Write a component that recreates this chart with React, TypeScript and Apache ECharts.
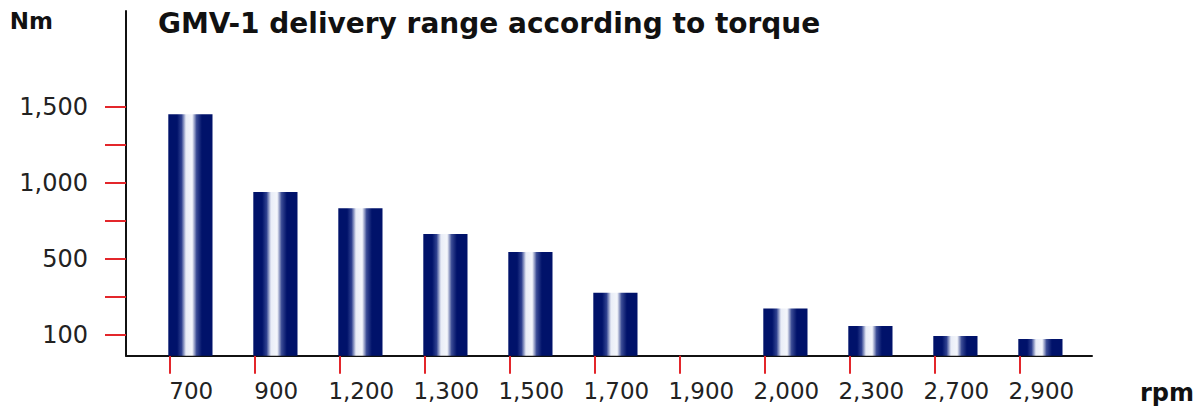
import React, { useEffect, useRef } from "react";
import * as echarts from "echarts";

// ---- data ----
const categories = ["700", "900", "1,200", "1,300", "1,500", "1,700", "1,900", "2,000", "2,300", "2,700", "2,900"];
const torque: (number | null)[] = [1452, 940, 834, 664, 545, 278, null, 175, 59, -7, -26];
const yTickValues = [0, 250, 500, 750, 1000, 1250, 1500];
const yLabelValues = [0, 500, 1000, 1500];
const yLabelTexts = ["100", "500", "1,000", "1,500"];
const Y_MIN = -136;
const Y_MAX = 2130;

const TITLE = "GMV-1 delivery range according to torque";
const FONT = "DejaVu Sans";
const RED = "#e3262b";
const NAVY = "#00126a";

export default function App() {
  const ref = useRef<HTMLDivElement>(null);

  useEffect(() => {
    if (!ref.current) return;
    const chart = echarts.init(ref.current, undefined, { renderer: "svg" });

    const barData = torque
      .map((v, i) => (v === null ? null : [i, v]))
      .filter((d) => d !== null);

    const gradient = new echarts.graphic.LinearGradient(0, 0, 1, 0, [
      { offset: 0, color: NAVY },
      { offset: 0.2, color: NAVY },
      { offset: 0.3, color: "#2f4190" },
      { offset: 0.4, color: "#e9edf7" },
      { offset: 0.54, color: "#f4f6fb" },
      { offset: 0.64, color: "#3a4b94" },
      { offset: 0.76, color: NAVY },
      { offset: 1, color: NAVY },
    ]);

    const option: any = {
      animation: false,
      backgroundColor: "#ffffff",
      title: {
        text: TITLE,
        left: 158,
        top: 9,
        padding: 0,
        textStyle: { fontFamily: FONT, fontWeight: "bold", fontSize: 28, color: "#111" },
      },
      grid: [
        { left: 126, right: 107, top: 11, bottom: 51.3 },
        { left: 126.8, width: 935, top: 11, bottom: 51.3 },
      ],
      xAxis: [
        {
          gridIndex: 0,
          type: "value",
          min: 0,
          max: 1,
          axisLine: { show: true, onZero: false, lineStyle: { color: "#111", width: 2 } },
          axisTick: { show: false },
          axisLabel: { show: false },
          splitLine: { show: false },
          name: "rpm",
          nameLocation: "end",
          nameGap: 48,
          nameTextStyle: {
            fontFamily: FONT,
            fontWeight: "bold",
            fontSize: 24,
            color: "#111",
            align: "left",
            verticalAlign: "top",
            padding: [25, 0, 0, 0],
          },
        },
        {
          gridIndex: 1,
          type: "category",
          data: categories,
          axisLine: { show: false, onZero: false },
          axisTick: {
            show: true,
            alignWithLabel: true,
            interval: 0,
            length: 18,
            lineStyle: { color: RED, width: 2 },
          },
          axisLabel: {
            interval: 0,
            margin: 24,
            padding: [0, 0, 0, 44],
            fontFamily: FONT,
            fontSize: 23,
            color: "#222",
          },
          splitLine: { show: false },
        },
      ],
      yAxis: [
        {
          gridIndex: 0,
          type: "value",
          min: Y_MIN,
          max: Y_MAX,
          axisLine: { show: true, onZero: false, lineStyle: { color: "#111", width: 2 } },
          axisTick: {
            show: true,
            customValues: yTickValues,
            length: 21,
            lineStyle: { color: RED, width: 2 },
          },
          axisLabel: {
            customValues: yLabelValues,
            formatter: (v: number) => {
              const k = yLabelValues.indexOf(v);
              return k >= 0 ? yLabelTexts[k] : "";
            },
            margin: 38,
            fontFamily: FONT,
            fontSize: 24,
            color: "#222",
          },
          splitLine: { show: false },
          name: "Nm",
          nameLocation: "end",
          nameGap: -10,
          nameTextStyle: {
            fontFamily: FONT,
            fontWeight: "bold",
            fontSize: 23,
            color: "#111",
            align: "right",
            verticalAlign: "middle",
            padding: [0, 73, 0, 0],
          },
        },
        {
          gridIndex: 1,
          type: "value",
          min: Y_MIN,
          max: Y_MAX,
          show: false,
          splitLine: { show: false },
        },
      ],
      series: [
        {
          type: "custom",
          name: "Torque",
          xAxisIndex: 1,
          yAxisIndex: 1,
          data: barData,
          encode: { x: 0, y: 1 },
          renderItem: (_params: any, api: any) => {
            const idx = api.value(0);
            const v = api.value(1);
            if (isNaN(v)) return null;
            const top = api.coord([idx, v]);
            const base = api.coord([idx, Y_MIN]);
            const band = api.size([1, 0])[0];
            const w = band * 0.52;
            return {
              type: "rect",
              shape: { x: top[0] - 1, y: top[1], width: w, height: base[1] - top[1] },
              style: { fill: gradient },
            };
          },
        },
      ],
    };

    chart.setOption(option);
    return () => chart.dispose();
  }, []);

  return (
    <div
      ref={ref}
      style={{ position: "fixed", left: 0, top: 0, width: 1199, height: 407, background: "#fff" }}
    />
  );
}
